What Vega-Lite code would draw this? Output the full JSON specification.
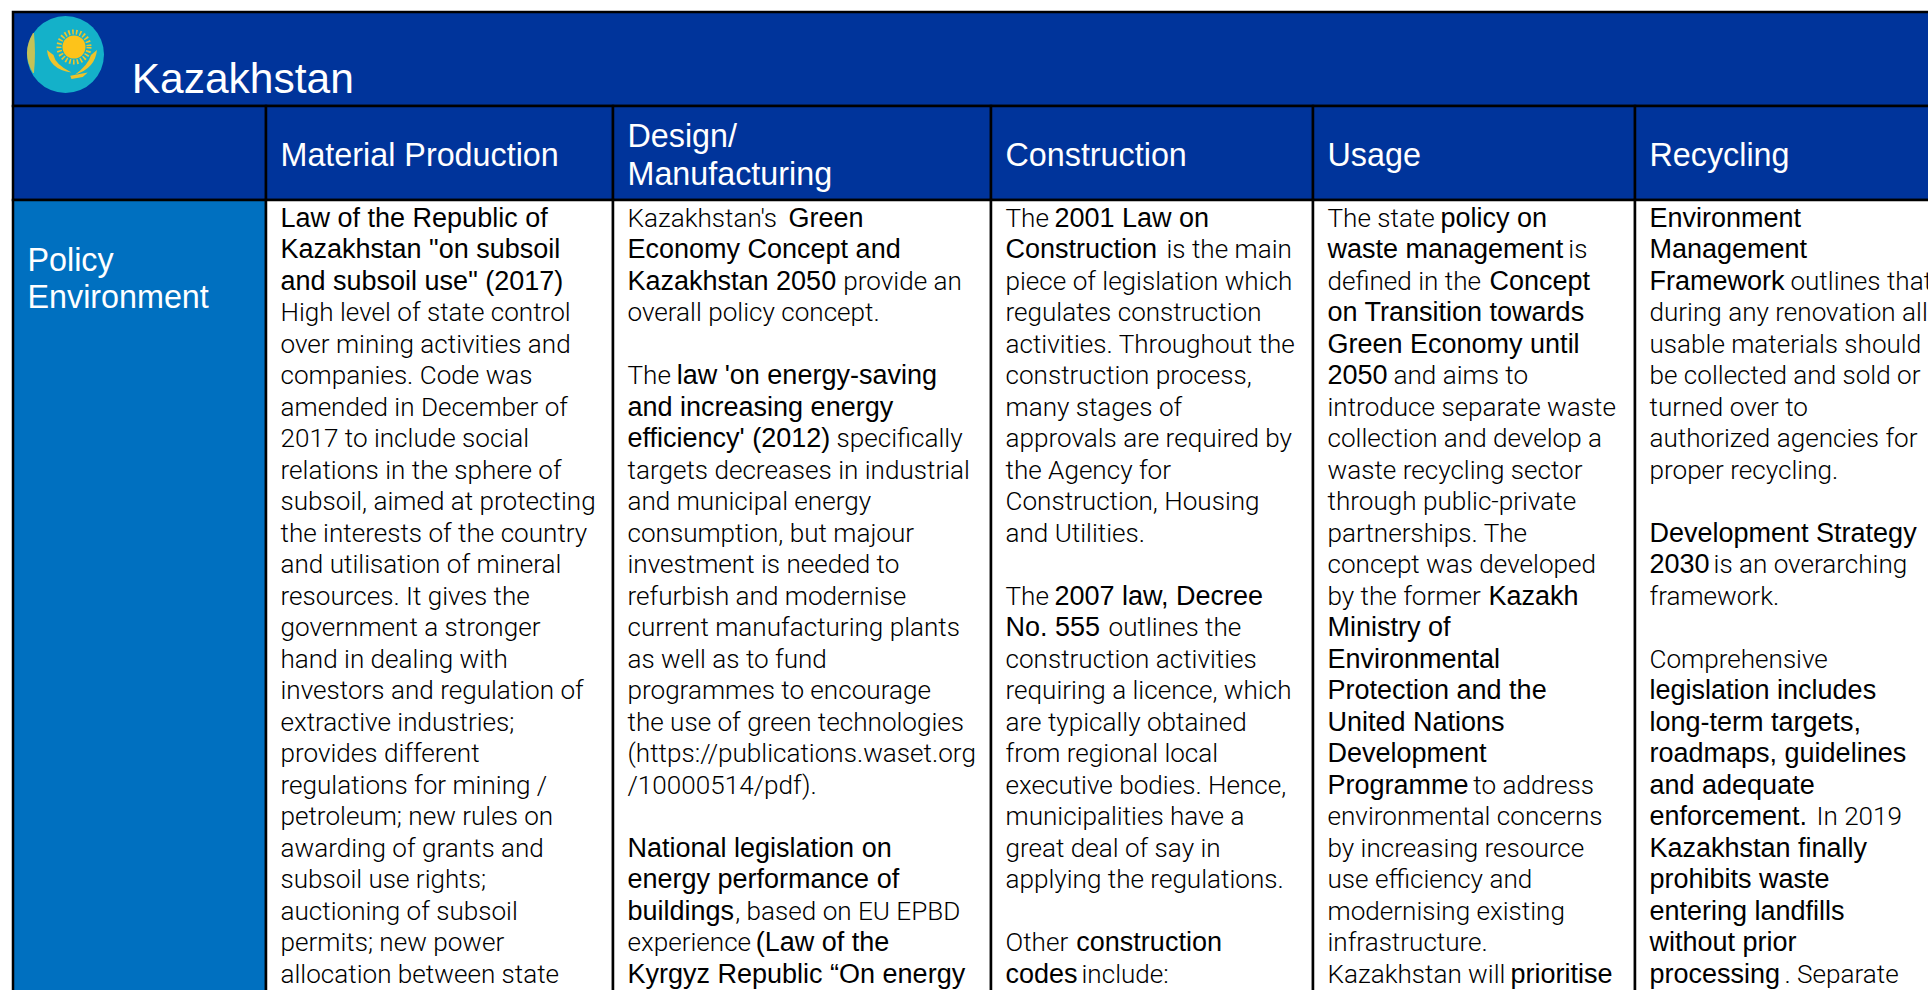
{"$schema":"https://vega.github.io/schema/vega-lite/v6.json","width":1928,"height":990,"autosize":"none","padding":0,"background":"white","config":{"view":{"stroke":null}},
"datasets":{
"cells":[{"part":"banner","col":0,"colEnd":6,"line":-5.53,"lineEnd":-2.54},
{"part":"heading","col":0,"colEnd":1,"line":-2.54,"lineEnd":0.44},{"part":"heading","col":1,"colEnd":2,"line":-2.54,"lineEnd":0.44},{"part":"heading","col":2,"colEnd":3,"line":-2.54,"lineEnd":0.44},{"part":"heading","col":3,"colEnd":4,"line":-2.54,"lineEnd":0.44},{"part":"heading","col":4,"colEnd":5,"line":-2.54,"lineEnd":0.44},{"part":"heading","col":5,"colEnd":6,"line":-2.54,"lineEnd":0.44},
{"part":"rowlabel","col":0,"colEnd":1,"line":0.44,"lineEnd":27},{"part":"body","col":1,"colEnd":2,"line":0.44,"lineEnd":27},{"part":"body","col":2,"colEnd":3,"line":0.44,"lineEnd":27},{"part":"body","col":3,"colEnd":4,"line":0.44,"lineEnd":27},{"part":"body","col":4,"colEnd":5,"line":0.44,"lineEnd":27},{"part":"body","col":5,"colEnd":6,"line":0.44,"lineEnd":27}],
"heads":[{"col":0.41,"line":-3.4,"text":"Kazakhstan","size":"title"},
{"col":1,"line":-0.99,"text":"Material Production","size":"head"},{"col":2,"line":-1.59,"text":"Design/","size":"head"},{"col":2,"line":-0.39,"text":"Manufacturing","size":"head"},{"col":3,"line":-0.99,"text":"Construction","size":"head"},{"col":4,"line":-0.99,"text":"Usage","size":"head"},{"col":5,"line":-0.99,"text":"Recycling","size":"head"},
{"col":0,"line":2.34,"text":"Policy","size":"head"},{"col":0,"line":3.52,"text":"Environment","size":"head"}],
"emblem":[{"part":"disc","col":0.2075,"line":-4.178},{"part":"sun","col":0.241,"line":-4.416},{"part":"wings","col":0.241,"line":-3.94},{"part":"ornament","col":0.067,"line":-4.225}],
"lines":[
{"col":1,"line":1,"face":"strong","text":"Law of the Republic of"},{"col":1,"line":2,"face":"strong","text":"Kazakhstan \"on subsoil"},{"col":1,"line":3,"face":"strong","text":"and subsoil use\" (2017)"},
{"col":1,"line":4,"face":"plain","text":"High level of state control"},{"col":1,"line":5,"face":"plain","text":"over mining activities and"},{"col":1,"line":6,"face":"plain","text":"companies. Code was"},{"col":1,"line":7,"face":"plain","text":"amended in December of"},{"col":1,"line":8,"face":"plain","text":"2017 to include social"},{"col":1,"line":9,"face":"plain","text":"relations in the sphere of"},{"col":1,"line":10,"face":"plain","text":"subsoil, aimed at protecting"},{"col":1,"line":11,"face":"plain","text":"the interests of the country"},{"col":1,"line":12,"face":"plain","text":"and utilisation of mineral"},{"col":1,"line":13,"face":"plain","text":"resources. It gives the"},{"col":1,"line":14,"face":"plain","text":"government a stronger"},{"col":1,"line":15,"face":"plain","text":"hand in dealing with"},{"col":1,"line":16,"face":"plain","text":"investors and regulation of"},{"col":1,"line":17,"face":"plain","text":"extractive industries;"},{"col":1,"line":18,"face":"plain","text":"provides different"},{"col":1,"line":19,"face":"plain","text":"regulations for mining /"},{"col":1,"line":20,"face":"plain","text":"petroleum; new rules on"},{"col":1,"line":21,"face":"plain","text":"awarding of grants and"},{"col":1,"line":22,"face":"plain","text":"subsoil use rights;"},{"col":1,"line":23,"face":"plain","text":"auctioning of subsoil"},{"col":1,"line":24,"face":"plain","text":"permits; new power"},{"col":1,"line":25,"face":"plain","text":"allocation between state"},
{"col":2,"line":1,"face":"plain","text":"Kazakhstan's"},{"col":2.426,"line":1,"face":"strong","text":"Green"},{"col":2,"line":2,"face":"strong","text":"Economy Concept and"},{"col":2,"line":3,"face":"strong","text":"Kazakhstan 2050"},{"col":2.571,"line":3,"face":"plain","text":"provide an"},{"col":2,"line":4,"face":"plain","text":"overall policy concept."},{"col":2,"line":6,"face":"plain","text":"The"},{"col":2.13,"line":6,"face":"strong","text":"law 'on energy-saving"},{"col":2,"line":7,"face":"strong","text":"and increasing energy"},{"col":2,"line":8,"face":"strong","text":"efficiency' (2012)"},{"col":2.553,"line":8,"face":"plain","text":"specifically"},{"col":2,"line":9,"face":"plain","text":"targets decreases in industrial"},{"col":2,"line":10,"face":"plain","text":"and municipal energy"},{"col":2,"line":11,"face":"plain","text":"consumption, but majour"},{"col":2,"line":12,"face":"plain","text":"investment is needed to"},{"col":2,"line":13,"face":"plain","text":"refurbish and modernise"},{"col":2,"line":14,"face":"plain","text":"current manufacturing plants"},{"col":2,"line":15,"face":"plain","text":"as well as to fund"},{"col":2,"line":16,"face":"plain","text":"programmes to encourage"},{"col":2,"line":17,"face":"plain","text":"the use of green technologies"},{"col":2,"line":18,"face":"plain","text":"(https://publications.waset.org"},{"col":2,"line":19,"face":"plain","text":"/10000514/pdf)."},{"col":2,"line":21,"face":"strong","text":"National legislation on"},{"col":2,"line":22,"face":"strong","text":"energy performance of"},{"col":2,"line":23,"face":"strong","text":"buildings"},{"col":2.285,"line":23,"face":"plain","text":", based on EU EPBD"},{"col":2,"line":24,"face":"plain","text":"experience"},{"col":2.339,"line":24,"face":"strong","text":"(Law of the"},{"col":2,"line":25,"face":"strong","text":"Kyrgyz Republic “On energy"},
{"col":3,"line":1,"face":"plain","text":"The"},{"col":3.152,"line":1,"face":"strong","text":"2001 Law on"},{"col":3,"line":2,"face":"strong","text":"Construction"},{"col":3.5,"line":2,"face":"plain","text":"is the main"},{"col":3,"line":3,"face":"plain","text":"piece of legislation which"},{"col":3,"line":4,"face":"plain","text":"regulates construction"},{"col":3,"line":5,"face":"plain","text":"activities. Throughout the"},{"col":3,"line":6,"face":"plain","text":"construction process,"},{"col":3,"line":7,"face":"plain","text":"many stages of"},{"col":3,"line":8,"face":"plain","text":"approvals are required by"},{"col":3,"line":9,"face":"plain","text":"the Agency for"},{"col":3,"line":10,"face":"plain","text":"Construction, Housing"},{"col":3,"line":11,"face":"plain","text":"and Utilities."},{"col":3,"line":13,"face":"plain","text":"The"},{"col":3.152,"line":13,"face":"strong","text":"2007 law, Decree"},{"col":3,"line":14,"face":"strong","text":"No. 555"},{"col":3.32,"line":14,"face":"plain","text":"outlines the"},{"col":3,"line":15,"face":"plain","text":"construction activities"},{"col":3,"line":16,"face":"plain","text":"requiring a licence, which"},{"col":3,"line":17,"face":"plain","text":"are typically obtained"},{"col":3,"line":18,"face":"plain","text":"from regional local"},{"col":3,"line":19,"face":"plain","text":"executive bodies. Hence,"},{"col":3,"line":20,"face":"plain","text":"municipalities have a"},{"col":3,"line":21,"face":"plain","text":"great deal of say in"},{"col":3,"line":22,"face":"plain","text":"applying the regulations."},{"col":3,"line":24,"face":"plain","text":"Other"},{"col":3.22,"line":24,"face":"strong","text":"construction"},{"col":3,"line":25,"face":"strong","text":"codes"},{"col":3.236,"line":25,"face":"plain","text":"include:"},
{"col":4,"line":1,"face":"plain","text":"The state"},{"col":4.351,"line":1,"face":"strong","text":"policy on"},{"col":4,"line":2,"face":"strong","text":"waste management"},{"col":4.748,"line":2,"face":"plain","text":"is"},{"col":4,"line":3,"face":"plain","text":"defined in the"},{"col":4.503,"line":3,"face":"strong","text":"Concept"},{"col":4,"line":4,"face":"strong","text":"on Transition towards"},{"col":4,"line":5,"face":"strong","text":"Green Economy until"},{"col":4,"line":6,"face":"strong","text":"2050"},{"col":4.205,"line":6,"face":"plain","text":"and aims to"},{"col":4,"line":7,"face":"plain","text":"introduce separate waste"},{"col":4,"line":8,"face":"plain","text":"collection and develop a"},{"col":4,"line":9,"face":"plain","text":"waste recycling sector"},{"col":4,"line":10,"face":"plain","text":"through public-private"},{"col":4,"line":11,"face":"plain","text":"partnerships. The"},{"col":4,"line":12,"face":"plain","text":"concept was developed"},{"col":4,"line":13,"face":"plain","text":"by the former"},{"col":4.5,"line":13,"face":"strong","text":"Kazakh"},{"col":4,"line":14,"face":"strong","text":"Ministry of"},{"col":4,"line":15,"face":"strong","text":"Environmental"},{"col":4,"line":16,"face":"strong","text":"Protection and the"},{"col":4,"line":17,"face":"strong","text":"United Nations"},{"col":4,"line":18,"face":"strong","text":"Development"},{"col":4,"line":19,"face":"strong","text":"Programme"},{"col":4.453,"line":19,"face":"plain","text":"to address"},{"col":4,"line":20,"face":"plain","text":"environmental concerns"},{"col":4,"line":21,"face":"plain","text":"by increasing resource"},{"col":4,"line":22,"face":"plain","text":"use efficiency and"},{"col":4,"line":23,"face":"plain","text":"modernising existing"},{"col":4,"line":24,"face":"plain","text":"infrastructure."},{"col":4,"line":25,"face":"plain","text":"Kazakhstan will"},{"col":4.568,"line":25,"face":"strong","text":"prioritise"},
{"col":5,"line":1,"face":"strong","text":"Environment"},{"col":5,"line":2,"face":"strong","text":"Management"},{"col":5,"line":3,"face":"strong","text":"Framework"},{"col":5.427,"line":3,"face":"plain","text":"outlines that"},{"col":5,"line":4,"face":"plain","text":"during any renovation all"},{"col":5,"line":5,"face":"plain","text":"usable materials should"},{"col":5,"line":6,"face":"plain","text":"be collected and sold or"},{"col":5,"line":7,"face":"plain","text":"turned over to"},{"col":5,"line":8,"face":"plain","text":"authorized agencies for"},{"col":5,"line":9,"face":"plain","text":"proper recycling."},{"col":5,"line":11,"face":"strong","text":"Development Strategy"},{"col":5,"line":12,"face":"strong","text":"2030"},{"col":5.194,"line":12,"face":"plain","text":"is an overarching"},{"col":5,"line":13,"face":"plain","text":"framework."},{"col":5,"line":15,"face":"plain","text":"Comprehensive"},{"col":5,"line":16,"face":"strong","text":"legislation includes"},{"col":5,"line":17,"face":"strong","text":"long-term targets,"},{"col":5,"line":18,"face":"strong","text":"roadmaps, guidelines"},{"col":5,"line":19,"face":"strong","text":"and adequate"},{"col":5,"line":20,"face":"strong","text":"enforcement."},{"col":5.506,"line":20,"face":"plain","text":"In 2019"},{"col":5,"line":21,"face":"strong","text":"Kazakhstan finally"},{"col":5,"line":22,"face":"strong","text":"prohibits waste"},{"col":5,"line":23,"face":"strong","text":"entering landfills"},{"col":5,"line":24,"face":"strong","text":"without prior"},{"col":5,"line":25,"face":"strong","text":"processing"},{"col":5.409,"line":25,"face":"plain","text":". Separate"}]
},
"encoding":{"x":{"field":"col","type":"quantitative","axis":null,"scale":{"domain":[0,1,2,3,4,5,6],"range":[13,266,613,991,1313,1635,1965]}},"y":{"field":"line","type":"quantitative","axis":null,"scale":{"domain":[-5.908,25.52],"range":[0,990]}}},
"layer":[
{"data":{"name":"cells"},"mark":{"type":"rect","stroke":"#000000","strokeWidth":2.5},"encoding":{"x2":{"field":"colEnd"},"y2":{"field":"lineEnd"},"fill":{"field":"part","type":"nominal","legend":null,"scale":{"domain":["banner","heading","rowlabel","body"],"range":["#00349b","#00349b","#0070c0","#ffffff"]}}}},
{"data":{"name":"heads"},"transform":[{"filter":"datum.size === 'head'"}],"mark":{"type":"text","align":"left","baseline":"middle","dx":14.5,"dy":1,"font":"Liberation Sans","fontSize":32.3,"color":"#ffffff"},"encoding":{"text":{"field":"text"}}},
{"data":{"name":"heads"},"transform":[{"filter":"datum.size === 'title'"}],"mark":{"type":"text","align":"left","baseline":"middle","dx":15,"dy":1,"font":"Liberation Sans","fontSize":42.5,"color":"#ffffff"},"encoding":{"text":{"field":"text"}}},
{"data":{"name":"lines"},"transform":[{"filter":"datum.face === 'plain'"}],"mark":{"type":"text","align":"left","baseline":"middle","dx":14.5,"dy":1,"font":"Roboto","fontWeight":300,"fontSize":26.1,"color":"#000000"},"encoding":{"text":{"field":"text"}}},
{"data":{"name":"lines"},"transform":[{"filter":"datum.face === 'strong'"}],"mark":{"type":"text","align":"left","baseline":"middle","dx":14.5,"dy":1,"font":"Liberation Sans","fontSize":27,"color":"#000000"},"encoding":{"text":{"field":"text"}}},
{"data":{"name":"emblem"},"transform":[{"filter":"datum.part === 'disc'"}],"mark":{"type":"point","shape":"circle","filled":true,"size":5929,"opacity":1,"color":"#14b1c9"}},
{"data":{"name":"emblem"},"transform":[{"filter":"datum.part === 'sun'"}],"mark":{"type":"point","shape":"circle","filled":false,"size":900,"opacity":1,"color":"#f2c52a","strokeWidth":5,"strokeDash":[1.6,2.2]}},
{"data":{"name":"emblem"},"transform":[{"filter":"datum.part === 'sun'"}],"mark":{"type":"point","shape":"circle","filled":true,"size":530,"opacity":1,"color":"#fdc31a"}},
{"data":{"name":"emblem"},"transform":[{"filter":"datum.part === 'wings'"}],"mark":{"type":"point","shape":"M -1.08 -0.48 Q -1 0.3 -0.1 0.42 Q -0.75 0.1 -0.82 -0.28 Z M 0.92 -0.48 Q 0.85 0.25 0.05 0.5 Q 0.58 0.1 0.68 -0.28 Z M -0.15 0.55 L 0.55 0.42 L 0.35 0.6 L -0.1 0.68 Z","filled":true,"size":2500,"opacity":1,"color":"#eec32b"}},
{"data":{"name":"emblem"},"transform":[{"filter":"datum.part === 'ornament'"}],"mark":{"type":"point","shape":"M 0.15 -1 Q -0.45 0 0.15 1 L 0.2 1 Q 0.3 0 0.2 -1 Z","filled":true,"size":1600,"opacity":0.9,"color":"#d8c44a"}}
]}
